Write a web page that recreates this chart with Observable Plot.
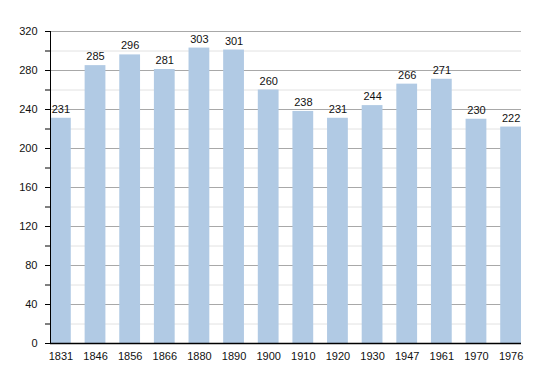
<!DOCTYPE html>
<html>
<head>
<meta charset="utf-8">
<script src="https://cdn.jsdelivr.net/npm/d3@7"></script>
<script src="https://cdn.jsdelivr.net/npm/@observablehq/plot@0.6"></script>
<style>
  html, body { margin: 0; padding: 0; background: #fff; }
</style>
</head>
<body>
<div id="chart"></div>
<script>
const years = ["1831","1846","1856","1866","1880","1890","1900","1910","1920","1930","1947","1961","1970","1976"];
const population = [231,285,296,281,303,301,260,238,231,244,266,271,230,222];
const majorTicks = [0,40,80,120,160,200,240,280,320];
const minorTicks = [20,60,100,140,180,220,260,300];

const data = years.map((y, i) => ({year: y, pop: population[i]}));

const plot = Plot.plot({
  width: 550,
  height: 373,
  marginLeft: 50,
  marginRight: 29,
  marginTop: 31,
  marginBottom: 30,
  style: {fontFamily: "'Liberation Sans', Arial, sans-serif", fontSize: "11px", color: "#111", background: "#fff"},
  x: {domain: years, paddingInner: 0.4, paddingOuter: 0, align: 0, round: false, label: null},
  y: {domain: [0, 320], label: null},
  marks: [
    Plot.ruleY(minorTicks, {stroke: "#e2e2e2", strokeWidth: 1}),
    Plot.ruleY(majorTicks, {stroke: "#a8a8a8", strokeWidth: 1}),
    Plot.barY(data, {x: "year", y: "pop", fill: "#b1cae4"}),
    Plot.text(data, {x: "year", y: "pop", text: d => String(d.pop), dy: -9, fill: "#111", fontSize: 11}),
    Plot.axisY(majorTicks, {tickSize: 5, tickPadding: 8, stroke: "#000", label: null}),
    Plot.axisY(minorTicks, {tickSize: 5, text: null, stroke: "#000", label: null}),
    Plot.axisX({tickSize: 0, tickPadding: 9, label: null}),
    Plot.ruleY([0], {stroke: "#000", strokeWidth: 1.3}),
    Plot.frame({anchor: "left", stroke: "#000"})
  ]
});
document.getElementById("chart").appendChild(plot);
</script>
</body>
</html>
